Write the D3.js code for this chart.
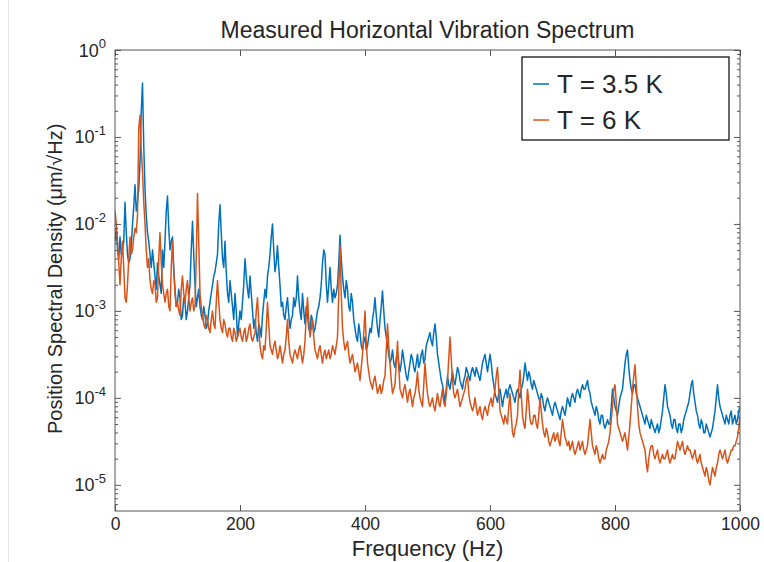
<!DOCTYPE html>
<html>
<head>
<meta charset="utf-8">
<script src="https://cdn.jsdelivr.net/npm/d3@7"></script>
<style>
body { margin: 0; background: #fff; }
text { font-family: "Liberation Sans", Arial, Helvetica, sans-serif; fill: #262626; }
</style>
</head>
<body>
<svg id="chart" width="764" height="562"></svg>
<script>
// spectrum, one value every 2 Hz from 0 to 1000 Hz, stored as log10 of PSD
const binHz = 2;
const psd35K_log10 = [
  -2.2, -2.05, -2.3, -2.4, -2.15, -2.35, -2.3, -2.2, -1.75, -2.1, -2.35, -2.45, -2.4, -2.25, -2.0, -1.8, -1.55, -1.85, -1.75, -1.6,
  -1.3, -0.7, -0.38, -1.1, -1.6, -1.9, -2.1, -2.2, -2.35, -2.5, -2.3, -2.45, -2.6, -2.75, -2.45, -2.6, -2.7, -2.8, -2.3, -2.5,
  -2.2, -1.85, -1.68, -2.05, -2.3, -2.2, -2.15, -2.5, -2.75, -2.95, -2.9, -2.75, -2.85, -3.1, -3.05, -2.85, -2.9, -3.1, -3.0, -2.85,
  -2.7, -2.3, -1.97, -2.35, -2.7, -2.95, -2.85, -2.75, -2.95, -3.05, -3.1, -2.95, -3.05, -3.2, -3.15, -3.0, -2.9, -2.8, -2.7, -2.6,
  -2.55, -2.45, -2.35, -2.0, -1.78, -2.1, -2.4, -2.5, -2.2, -2.55, -2.8, -2.9, -2.65, -2.8, -2.95, -3.1, -2.8, -3.0, -3.3, -3.15,
  -3.0, -3.1, -2.9, -2.7, -2.4, -2.6, -2.75, -2.85, -2.6, -2.8, -3.0, -3.2, -3.1, -3.25, -3.35, -3.15, -3.2, -3.3, -3.05, -2.9,
  -2.75, -2.85, -2.6, -2.5, -2.35, -2.15, -2.0, -2.3, -2.55, -2.45, -2.25, -2.5, -2.7, -2.95, -2.9, -3.05, -3.1, -2.95, -2.85, -3.05,
  -3.2, -3.1, -3.05, -2.85, -2.95, -2.85, -2.6, -2.85, -3.0, -3.1, -2.8, -3.0, -3.15, -2.95, -3.05, -3.2, -3.25, -3.05, -3.1, -3.25,
  -3.2, -3.1, -3.0, -2.95, -2.85, -2.7, -2.45, -2.3, -2.35, -2.7, -2.9, -2.7, -2.5, -2.75, -2.9, -2.75, -2.85, -2.8, -2.7, -2.45,
  -2.13, -2.4, -2.6, -2.75, -2.85, -2.65, -2.75, -2.95, -3.0, -2.8, -2.9, -3.1, -3.2, -3.3, -3.35, -3.15, -3.25, -3.4, -3.45, -3.35,
  -3.3, -3.45, -3.4, -3.3, -3.2, -3.25, -3.1, -3.0, -2.85, -3.05, -3.2, -3.3, -3.1, -2.95, -2.77, -3.0, -3.2, -3.3, -3.4, -3.5,
  -3.6, -3.55, -3.45, -3.6, -3.65, -3.55, -3.5, -3.6, -3.7, -3.6, -3.45, -3.55, -3.65, -3.75, -3.8, -3.7, -3.6, -3.5, -3.55, -3.65,
  -3.7, -3.6, -3.5, -3.65, -3.6, -3.5, -3.45, -3.6, -3.55, -3.4, -3.35, -3.3, -3.25, -3.35, -3.4, -3.25, -3.15, -3.3, -3.5, -3.6,
  -3.7, -3.8, -3.85, -3.95, -4.05, -3.9, -3.75, -3.85, -3.9, -3.8, -3.7, -3.8, -3.85, -3.75, -3.65, -3.7, -3.8, -3.85, -3.9, -3.8,
  -3.75, -3.65, -3.7, -3.75, -3.8, -3.7, -3.65, -3.7, -3.75, -3.65, -3.7, -3.75, -3.8, -3.7, -3.6, -3.55, -3.5, -3.6, -3.7, -3.6,
  -3.5, -3.6, -3.75, -3.85, -3.95, -4.0, -4.05, -3.95, -3.9, -4.0, -4.1, -4.0, -3.95, -3.9, -4.0, -3.9, -3.85, -3.9, -3.95, -4.0,
  -4.05, -3.95, -3.9, -3.95, -4.0, -3.9, -3.85, -3.75, -3.6, -3.7, -3.8, -3.7, -3.75, -3.85, -3.9, -3.8, -3.85, -3.9, -3.95, -4.0,
  -4.05, -3.95, -4.0, -4.1, -4.15, -4.05, -4.0, -4.05, -4.1, -4.15, -4.2, -4.1, -4.05, -4.1, -4.15, -4.2, -4.25, -4.15, -4.1, -4.15,
  -4.2, -4.1, -4.0, -4.05, -4.1, -4.0, -3.95, -4.0, -4.05, -3.95, -3.9, -3.95, -4.0, -3.9, -3.85, -3.9, -3.9, -3.85, -3.8, -3.9,
  -3.95, -4.05, -4.1, -4.15, -4.2, -4.1, -4.15, -4.25, -4.3, -4.2, -4.2, -4.3, -4.35, -4.3, -4.25, -4.3, -4.3, -4.1, -3.9, -4.0,
  -4.1, -4.15, -4.2, -4.1, -4.0, -3.95, -3.9, -3.75, -3.6, -3.5, -3.45, -3.65, -3.8, -3.9, -3.95, -3.85, -3.85, -3.95, -4.0, -4.05,
  -4.1, -4.15, -4.2, -4.25, -4.3, -4.2, -4.25, -4.3, -4.35, -4.25, -4.3, -4.35, -4.4, -4.35, -4.3, -4.4, -4.35, -4.25, -4.15, -4.0,
  -3.85, -3.95, -4.1, -4.15, -4.2, -4.3, -4.35, -4.25, -4.25, -4.35, -4.4, -4.3, -4.3, -4.4, -4.35, -4.25, -4.2, -4.15, -4.1, -4.05,
  -3.95, -3.85, -3.8, -3.95, -4.05, -4.15, -4.2, -4.3, -4.35, -4.25, -4.3, -4.4, -4.4, -4.3, -4.35, -4.4, -4.45, -4.4, -4.35, -4.25,
  -4.15, -4.0, -3.85, -4.0, -4.1, -4.15, -4.2, -4.25, -4.3, -4.2, -4.25, -4.3, -4.2, -4.15, -4.3, -4.25, -4.2, -4.3, -4.25, -4.15,
  -4.1
];
const psd6K_log10 = [
  -1.85, -2.0, -2.2, -2.45, -2.7, -2.4, -2.2, -2.5, -2.85, -2.9, -2.7, -2.4, -2.15, -2.35, -2.3, -2.15, -2.05, -2.1, -1.9, -0.9,
  -0.75, -1.15, -1.4, -1.75, -2.0, -2.3, -2.5, -2.4, -2.65, -2.75, -2.8, -2.65, -2.7, -2.9, -2.85, -2.4, -2.1, -2.45, -2.7, -2.8,
  -2.9, -2.8, -2.75, -2.95, -3.0, -2.5, -2.2, -2.55, -2.8, -2.95, -2.9, -3.0, -3.05, -2.75, -2.6, -2.8, -2.9, -2.75, -2.65, -2.85,
  -3.0, -2.9, -2.85, -3.0, -2.95, -2.4, -1.65, -2.2, -2.8, -2.95, -3.05, -3.15, -3.2, -3.05, -3.1, -3.2, -3.25, -3.1, -3.0, -3.15,
  -3.2, -2.9, -2.65, -2.9, -3.1, -3.2, -3.25, -3.1, -3.15, -3.25, -3.3, -3.2, -3.2, -3.3, -3.35, -3.2, -3.25, -3.35, -3.3, -3.25,
  -3.2, -3.3, -3.35, -3.25, -3.2, -3.35, -3.3, -3.2, -3.15, -3.3, -3.35, -3.3, -3.25, -3.0, -2.85, -3.15, -3.4, -3.5, -3.55, -3.4,
  -3.45, -3.2, -2.9, -3.15, -3.4, -3.45, -3.5, -3.4, -3.35, -3.45, -3.55, -3.5, -3.4, -3.5, -3.6, -3.5, -3.45, -3.3, -3.1, -3.35,
  -3.5, -3.55, -3.6, -3.5, -3.45, -3.5, -3.55, -3.45, -3.4, -3.5, -3.6, -3.5, -3.35, -3.05, -2.85, -3.1, -3.3, -3.2, -3.1, -3.3,
  -3.45, -3.5, -3.55, -3.45, -3.4, -3.5, -3.6, -3.5, -3.45, -3.55, -3.5, -3.45, -3.55, -3.5, -3.4, -3.45, -3.5, -3.4, -3.3, -2.8,
  -2.25, -2.8, -3.2, -3.35, -3.45, -3.4, -3.35, -3.5, -3.6, -3.55, -3.5, -3.6, -3.7, -3.65, -3.6, -3.7, -3.8, -3.65, -3.5, -3.25,
  -3.0, -3.35, -3.6, -3.7, -3.8, -3.85, -3.9, -3.8, -3.75, -3.85, -3.95, -3.9, -3.85, -3.95, -3.9, -3.8, -3.75, -3.45, -3.15, -3.4,
  -3.6, -3.8, -3.95, -3.9, -3.85, -3.6, -3.35, -3.65, -3.9, -3.95, -4.0, -3.9, -3.85, -3.95, -4.05, -3.95, -3.9, -4.0, -4.1, -4.0,
  -3.95, -3.85, -3.7, -3.9, -4.0, -4.05, -4.1, -3.85, -3.6, -3.8, -3.95, -4.05, -4.1, -4.05, -4.0, -4.1, -4.15, -4.05, -3.95, -4.05,
  -4.1, -4.0, -3.9, -4.05, -4.1, -3.95, -3.8, -3.55, -3.3, -3.55, -3.8, -3.95, -4.0, -3.95, -3.9, -4.0, -4.1, -4.05, -4.0, -3.95,
  -3.9, -3.8, -3.75, -3.95, -4.05, -4.1, -4.15, -4.1, -4.0, -4.1, -4.2, -4.15, -4.1, -4.2, -4.25, -4.15, -4.1, -4.15, -4.2, -4.1,
  -4.05, -4.0, -4.1, -4.0, -3.9, -3.75, -3.65, -3.9, -4.15, -4.2, -4.25, -4.3, -4.2, -4.25, -4.3, -4.1, -3.95, -4.2, -4.4, -4.45,
  -4.35, -4.3, -4.2, -3.9, -3.68, -3.95, -4.2, -4.3, -4.35, -4.15, -3.9, -4.05, -4.25, -4.3, -4.3, -4.2, -4.2, -4.3, -4.35, -4.2,
  -4.0, -4.15, -4.3, -4.4, -4.45, -4.35, -4.4, -4.5, -4.55, -4.5, -4.45, -4.4, -4.5, -4.45, -4.4, -4.5, -4.55, -4.4, -4.25, -4.35,
  -4.45, -4.5, -4.55, -4.5, -4.6, -4.55, -4.5, -4.6, -4.65, -4.6, -4.55, -4.5, -4.6, -4.55, -4.5, -4.6, -4.65, -4.6, -4.55, -4.4,
  -4.25, -4.4, -4.55, -4.6, -4.65, -4.55, -4.6, -4.7, -4.75, -4.7, -4.65, -4.7, -4.7, -4.6, -4.55, -4.5, -4.4, -4.25, -4.1, -3.9,
  -3.85, -4.05, -4.3, -4.35, -4.4, -4.45, -4.5, -4.45, -4.4, -4.5, -4.6, -4.45, -4.3, -4.1, -3.9, -3.75, -3.62, -3.85, -4.1, -4.3,
  -4.4, -4.45, -4.5, -4.55, -4.6, -4.75, -4.85, -4.7, -4.6, -4.55, -4.55, -4.65, -4.7, -4.65, -4.6, -4.7, -4.75, -4.7, -4.65, -4.7,
  -4.7, -4.65, -4.6, -4.7, -4.75, -4.7, -4.65, -4.7, -4.7, -4.6, -4.5, -4.55, -4.6, -4.55, -4.5, -4.6, -4.65, -4.6, -4.55, -4.6,
  -4.6, -4.65, -4.7, -4.65, -4.6, -4.7, -4.75, -4.7, -4.65, -4.75, -4.8, -4.85, -4.9, -4.8, -4.85, -4.95, -5.0, -4.9, -4.8, -4.85,
  -4.9, -4.8, -4.75, -4.65, -4.6, -4.65, -4.7, -4.65, -4.6, -4.7, -4.75, -4.7, -4.65, -4.6, -4.6, -4.55, -4.55, -4.5, -4.45, -4.35,
  -4.2
];
const seriesNames = ["T = 3.5 K", "T = 6 K"];
const seriesColors = ["#0072BD", "#D95319"];
const xTicks = [0, 200, 400, 600, 800, 1000];
const yExponents = [0, -1, -2, -3, -4, -5];

const width = 764, height = 562;
const plotLeft = 115, plotRight = 740, plotTop = 50, plotBottom = 511;

const svg = d3.select("#chart");
svg.append("rect").attr("width", width).attr("height", height).attr("fill", "#fff");

// faint page edge at the left
svg.append("line")
    .attr("x1", 8.5).attr("x2", 8.5).attr("y1", 0).attr("y2", height)
    .attr("stroke", "#e4e4e4");

const xScale = d3.scaleLinear().domain([0, 1000]).range([plotLeft, plotRight]);
const yScale = d3.scaleLog().domain([5e-6, 1]).range([plotBottom, plotTop]);

const freqs = psd35K_log10.map((d, i) => i * binHz);
const series = [psd35K_log10, psd6K_log10].map(arr =>
    arr.map((v, i) => ({ f: freqs[i], psd: Math.pow(10, v) })));

const line = d3.line()
    .x(d => xScale(d.f))
    .y(d => yScale(d.psd));

svg.append("defs").append("clipPath").attr("id", "plotClip")
    .append("rect").attr("x", plotLeft).attr("y", plotTop)
    .attr("width", plotRight - plotLeft).attr("height", plotBottom - plotTop);

const plot = svg.append("g").attr("clip-path", "url(#plotClip)");
series.forEach((s, i) => {
    plot.append("path")
        .datum(s)
        .attr("fill", "none")
        .attr("stroke", seriesColors[i])
        .attr("stroke-width", 1.5)
        .attr("stroke-linejoin", "round")
        .attr("d", line);
});

// minor ticks for the log axis
const yMinor = [];
for (let e = -6; e < 0; e++) {
    for (let m = 2; m <= 9; m++) {
        const v = m * Math.pow(10, e);
        if (v >= 5e-6 && v <= 1) yMinor.push(v);
    }
}
const yMajor = yExponents.map(e => Math.pow(10, e));

const axisColor = "#555";
function styleAxis(g) {
    g.select(".domain").remove();
    g.selectAll(".tick line").attr("stroke", axisColor);
    g.selectAll(".tick text").attr("font-size", 17.5).attr("fill", "#262626")
        .style("font-family", "'Liberation Sans', Arial, Helvetica, sans-serif");
}

svg.append("g")
    .attr("transform", "translate(0," + plotBottom + ")")
    .call(d3.axisBottom(xScale).tickValues(xTicks).tickSize(-6).tickPadding(7).tickFormat(d3.format("d")))
    .call(styleAxis);

svg.append("g")
    .attr("transform", "translate(0," + plotTop + ")")
    .call(d3.axisTop(xScale).tickValues(xTicks).tickSize(-6).tickFormat(""))
    .call(styleAxis);

[[plotLeft, d3.axisLeft], [plotRight, d3.axisRight]].forEach(([xPos, axisFn]) => {
    svg.append("g")
        .attr("transform", "translate(" + xPos + ",0)")
        .call(axisFn(yScale).tickValues(yMajor).tickSize(-6).tickFormat(""))
        .call(styleAxis);
    svg.append("g")
        .attr("transform", "translate(" + xPos + ",0)")
        .call(axisFn(yScale).tickValues(yMinor).tickSize(-3).tickFormat(""))
        .call(styleAxis);
});

// box
svg.append("rect")
    .attr("x", plotLeft).attr("y", plotTop)
    .attr("width", plotRight - plotLeft).attr("height", plotBottom - plotTop)
    .attr("fill", "none").attr("stroke", axisColor).attr("stroke-width", 1);

// y tick labels with superscript exponents
yExponents.forEach(e => {
    const t = svg.append("text")
        .attr("x", 106)
        .attr("y", yScale(Math.pow(10, e)) + 6.5)
        .attr("text-anchor", "end");
    t.append("tspan").attr("font-size", 18).text("10");
    t.append("tspan").attr("font-size", 13).attr("dy", -8.5).text(String(e));
});

// title and axis labels
svg.append("text")
    .attr("x", (plotLeft + plotRight) / 2).attr("y", 38)
    .attr("text-anchor", "middle").attr("font-size", 23)
    .attr("fill", "#000")
    .text("Measured Horizontal Vibration Spectrum");

svg.append("text")
    .attr("x", (plotLeft + plotRight) / 2).attr("y", 556)
    .attr("text-anchor", "middle").attr("font-size", 22)
    .text("Frequency (Hz)");

const yLabel = svg.append("text")
    .attr("transform", "translate(62,434) rotate(-90)")
    .attr("text-anchor", "start")
    .attr("font-size", 20);
yLabel.append("tspan").text("Position Spectral Density ");
yLabel.append("tspan").text("(\u03BCm/\u221AHz)");

// legend
const legend = svg.append("g");
legend.append("rect")
    .attr("x", 522).attr("y", 57).attr("width", 207).attr("height", 83)
    .attr("fill", "#fff").attr("stroke", "#000").attr("stroke-width", 1.2);
seriesNames.forEach((name, i) => {
    const yy = 84 + i * 36;
    legend.append("line")
        .attr("x1", 533).attr("x2", 549).attr("y1", yy).attr("y2", yy)
        .attr("stroke", seriesColors[i]).attr("stroke-width", 1.5);
    legend.append("text")
        .attr("x", 557).attr("y", yy + 9)
        .attr("font-size", 26).attr("fill", "#000")
        .text(name);
});
</script>
</body>
</html>
